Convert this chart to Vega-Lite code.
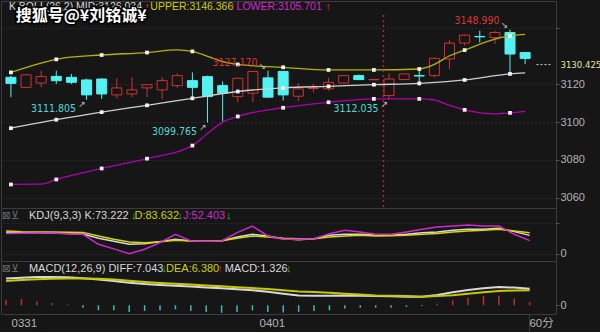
{
"$schema": "https://vega.github.io/schema/vega-lite/v6.json",
"background": "#161616",
"padding": 0,
"spacing": 0,
"bounds": "flush",
"config": {
  "view": {"stroke": "#3c3c3c", "strokeWidth": 1},
  "axis": {"labelFont": "Liberation Sans", "labelFontSize": 11, "labelColor": "#b4b4b4", "domain": false, "tickColor": "#555555", "tickSize": 3, "labelPadding": 1, "gridColor": "#3a3a3a", "gridDash": [1, 3], "title": null, "labelOverlap": false, "labelBound": false},
  "text": {"font": "Liberation Sans"}
},
"datasets": {
  "candles": [
    {"i":1,"o":3123.7,"h":3124.5,"l":3113.2,"c":3120.5},
    {"i":2,"o":3118.4,"h":3125.3,"l":3118.2,"c":3125.0},
    {"i":3,"o":3120.7,"h":3127.2,"l":3118.4,"c":3124.1},
    {"i":4,"o":3124.2,"h":3127.2,"l":3120.2,"c":3121.9},
    {"i":5,"o":3123.7,"h":3125.5,"l":3120.2,"c":3121.05},
    {"i":6,"o":3122.3,"h":3123.0,"l":3111.805,"c":3114.4},
    {"i":7,"o":3122.8,"h":3123.2,"l":3112.3,"c":3114.9},
    {"i":8,"o":3114.4,"h":3123.2,"l":3112.5,"c":3118.1},
    {"i":9,"o":3114.9,"h":3123.7,"l":3113.2,"c":3117.05},
    {"i":10,"o":3118.1,"h":3120.1,"l":3113.2,"c":3119.8},
    {"i":11,"o":3117.05,"h":3123.7,"l":3112.3,"c":3121.95},
    {"i":12,"o":3119.3,"h":3125.8,"l":3118.1,"c":3124.6},
    {"i":13,"o":3121.95,"h":3126.3,"l":3113.2,"c":3118.4},
    {"i":14,"o":3124.05,"h":3124.6,"l":3099.765,"c":3113.5},
    {"i":15,"o":3119.3,"h":3121.6,"l":3100.3,"c":3115.3},
    {"i":16,"o":3113.5,"h":3123.5,"l":3110.5,"c":3123.2},
    {"i":17,"o":3115.3,"h":3127.0,"l":3110.5,"c":3126.8},
    {"i":18,"o":3123.4,"h":3127.17,"l":3113.0,"c":3113.2},
    {"i":19,"o":3126.8,"h":3127.0,"l":3111.4,"c":3114.4},
    {"i":20,"o":3113.7,"h":3120.7,"l":3111.1,"c":3117.6},
    {"i":21,"o":3117.8,"h":3120.2,"l":3115.8,"c":3118.0},
    {"i":22,"o":3117.6,"h":3123.4,"l":3116.7,"c":3121.05},
    {"i":23,"o":3120.7,"h":3124.8,"l":3120.5,"c":3124.6},
    {"i":24,"o":3124.6,"h":3125.2,"l":3122.3,"c":3122.5},
    {"i":25,"o":3122.4,"h":3122.6,"l":3122.4,"c":3122.6},
    {"i":26,"o":3114.05,"h":3125.8,"l":3112.035,"c":3122.8},
    {"i":27,"o":3122.5,"h":3125.8,"l":3122.3,"c":3125.5},
    {"i":28,"o":3124.6,"h":3127.2,"l":3119.3,"c":3124.4},
    {"i":29,"o":3124.6,"h":3134.2,"l":3123.7,"c":3133.7},
    {"i":30,"o":3133.4,"h":3143.4,"l":3128.1,"c":3141.8},
    {"i":31,"o":3141.8,"h":3146.5,"l":3140.4,"c":3146.0},
    {"i":32,"o":3145.3,"h":3148.3,"l":3142.1,"c":3145.1},
    {"i":33,"o":3144.7,"h":3148.3,"l":3141.3,"c":3147.4},
    {"i":34,"o":3147.4,"h":3148.99,"l":3125.5,"c":3136.0},
    {"i":35,"o":3136.8,"h":3137.0,"l":3130.7,"c":3133.7}
  ],
  "boll": [
    {"i":1,"UPPER":3126.3,"MID":3096.8,"LOWER":3067.05},
    {"i":3,"LOWER":3067.2},
    {"i":4,"UPPER":3133.2,"MID":3101.3,"LOWER":3069.7},
    {"i":7,"UPPER":3135.5,"MID":3105.3,"LOWER":3075.5},
    {"i":10,"UPPER":3136.8,"MID":3108.9,"LOWER":3080.7},
    {"i":12,"UPPER":3138.2},
    {"i":13,"UPPER":3137.4,"MID":3112.6,"LOWER":3087.6},
    {"i":14,"UPPER":3134.8,"LOWER":3094.0},
    {"i":15,"UPPER":3132.0,"LOWER":3100.0},
    {"i":16,"UPPER":3130.5,"MID":3116.2,"LOWER":3103.0},
    {"i":19,"UPPER":3129.0,"MID":3118.1,"LOWER":3107.6},
    {"i":22,"UPPER":3127.6,"MID":3118.95,"LOWER":3110.5},
    {"i":25,"UPPER":3127.6,"MID":3119.8,"LOWER":3112.3},
    {"i":28,"UPPER":3128.1,"MID":3120.5,"LOWER":3112.3},
    {"i":29,"UPPER":3130.5,"LOWER":3111.7},
    {"i":30,"UPPER":3135.1,"LOWER":3108.8},
    {"i":31,"UPPER":3138.1,"MID":3122.3,"LOWER":3106.5},
    {"i":33,"UPPER":3143.9,"LOWER":3104.4},
    {"i":34,"UPPER":3145.6,"MID":3125.5,"LOWER":3104.9},
    {"i":35,"UPPER":3146.366,"MID":3126.034,"LOWER":3105.701}
  ],
  "extremes": [
    {"i":34,"p":3148.99,"t":"3148.990","k":"high"},
    {"i":18,"p":3127.17,"t":"3127.170","k":"high"},
    {"i":6,"p":3111.805,"t":"3111.805","k":"low"},
    {"i":14,"p":3099.765,"t":"3099.765","k":"low"},
    {"i":26,"p":3112.035,"t":"3112.035","k":"low"}
  ],
  "kdj": [
    {"i":1,"K":85,"D":90.5,"J":81},
    {"i":2,"K":84,"D":88,"J":82},
    {"i":3,"K":83.5,"D":87,"J":83},
    {"i":4,"K":82.7,"D":86.6,"J":82.7},
    {"i":5,"K":81,"D":86,"J":80},
    {"i":6,"K":79,"D":85,"J":77.5},
    {"i":7,"K":62,"D":71,"J":38},
    {"i":8,"K":50,"D":58,"J":20},
    {"i":9,"K":38,"D":47,"J":1},
    {"i":10,"K":40.6,"D":44.5,"J":18.5},
    {"i":11,"K":48.5,"D":48.5,"J":44.5},
    {"i":12,"K":58,"D":54,"J":77.5},
    {"i":13,"K":51,"D":51,"J":51},
    {"i":14,"K":50,"D":50,"J":50},
    {"i":15,"K":51,"D":52,"J":51},
    {"i":16,"K":67,"D":62,"J":84},
    {"i":17,"K":77.5,"D":71,"J":110},
    {"i":18,"K":71,"D":67,"J":71},
    {"i":19,"K":60,"D":62,"J":58},
    {"i":20,"K":56,"D":60,"J":58},
    {"i":21,"K":60,"D":60,"J":60},
    {"i":22,"K":73.6,"D":67,"J":80},
    {"i":23,"K":77.5,"D":71,"J":93},
    {"i":24,"K":77.5,"D":73.6,"J":86.6},
    {"i":25,"K":75,"D":71,"J":77.5},
    {"i":26,"K":73.6,"D":72,"J":77.5},
    {"i":27,"K":77.5,"D":73.6,"J":86.6},
    {"i":28,"K":84,"D":77.5,"J":97},
    {"i":29,"K":86.6,"D":81,"J":106},
    {"i":30,"K":93,"D":86.6,"J":110},
    {"i":31,"K":97,"D":90.5,"J":114},
    {"i":32,"K":97,"D":93,"J":110},
    {"i":33,"K":101,"D":97,"J":110},
    {"i":34,"K":88,"D":90.5,"J":77.5},
    {"i":35,"K":73.222,"D":83.632,"J":52.403}
  ],
  "macdl": [
    {"i":1,"DIFF":11.4,"DEA":10.3},
    {"i":2,"DIFF":11.7,"DEA":10.7},
    {"i":3,"DIFF":12.0,"DEA":11.0},
    {"i":4,"DIFF":12.0,"DEA":11.3},
    {"i":5,"DIFF":11.9,"DEA":11.4},
    {"i":6,"DIFF":11.5,"DEA":11.4},
    {"i":7,"DIFF":10.9,"DEA":11.3},
    {"i":8,"DIFF":10.3,"DEA":10.9},
    {"i":9,"DIFF":9.6,"DEA":10.4},
    {"i":10,"DIFF":9.0,"DEA":9.9},
    {"i":11,"DIFF":8.6,"DEA":9.5},
    {"i":12,"DIFF":8.3,"DEA":9.1},
    {"i":13,"DIFF":8.0,"DEA":8.8},
    {"i":14,"DIFF":7.6,"DEA":8.4},
    {"i":15,"DIFF":7.2,"DEA":8.1},
    {"i":16,"DIFF":6.8,"DEA":7.7},
    {"i":17,"DIFF":6.4,"DEA":7.3},
    {"i":18,"DIFF":5.7,"DEA":6.9},
    {"i":19,"DIFF":4.9,"DEA":6.4},
    {"i":20,"DIFF":4.2,"DEA":5.9},
    {"i":21,"DIFF":4.1,"DEA":5.6},
    {"i":22,"DIFF":4.1,"DEA":5.3},
    {"i":23,"DIFF":4.2,"DEA":4.9},
    {"i":24,"DIFF":4.1,"DEA":4.6},
    {"i":25,"DIFF":3.9,"DEA":4.2},
    {"i":26,"DIFF":3.8,"DEA":4.0},
    {"i":27,"DIFF":3.6,"DEA":3.9},
    {"i":28,"DIFF":3.6,"DEA":3.6},
    {"i":29,"DIFF":4.4,"DEA":3.9},
    {"i":30,"DIFF":5.5,"DEA":4.3},
    {"i":31,"DIFF":6.5,"DEA":4.9},
    {"i":32,"DIFF":7.2,"DEA":5.5},
    {"i":33,"DIFF":7.75,"DEA":6.06},
    {"i":34,"DIFF":7.5,"DEA":6.3},
    {"i":35,"DIFF":7.043,"DEA":6.38}
  ],
  "macd": [
    {"i":1,"m":2.4},{"i":2,"m":2.6},{"i":3,"m":1.6},{"i":4,"m":1.0},{"i":5,"m":0.4},
    {"i":6,"m":-1.0},{"i":7,"m":-2.1},{"i":8,"m":-2.1},{"i":9,"m":-2.8},{"i":10,"m":-2.4},
    {"i":11,"m":-2.1},{"i":12,"m":-1.7},{"i":13,"m":-2.4},{"i":14,"m":-2.8},{"i":15,"m":-3.2},
    {"i":16,"m":-2.8},{"i":17,"m":-2.1},{"i":18,"m":-2.8},{"i":19,"m":-3.1},{"i":20,"m":-2.8},
    {"i":21,"m":-2.4},{"i":22,"m":-2.1},{"i":23,"m":-1.4},{"i":24,"m":-1.0},{"i":25,"m":-1.0},
    {"i":26,"m":-1.0},{"i":27,"m":-0.7},{"i":28,"m":-0.3},{"i":29,"m":0.7},{"i":30,"m":2.1},
    {"i":31,"m":3.2},{"i":32,"m":4.0},{"i":33,"m":4.0},{"i":34,"m":2.8},{"i":35,"m":1.326}
  ],
  "hdr_main": [
    {"at":0.87,"t":"K BOLL(26,2) MID:3126.034","role":"name"},
    {"at":9.83,"t":"↑","role":"rise"},
    {"at":10.22,"t":"UPPER:3146.366","role":"yellow"},
    {"at":15.48,"t":"↑","role":"rise"},
    {"at":15.92,"t":"LOWER:3105.701","role":"magenta"},
    {"at":21.8,"t":"↑","role":"rise"}
  ],
  "hdr_kdj": [
    {"at":0.72,"t":"⊠⊻","role":"icon"},
    {"at":2.49,"t":"KDJ(9,3,3) K:73.222","role":"name"},
    {"at":9.12,"t":"↓","role":"fall"},
    {"at":9.34,"t":"D:83.632","role":"yellow"},
    {"at":12.14,"t":"↓","role":"fall"},
    {"at":12.49,"t":"J:52.403","role":"magenta"},
    {"at":15.29,"t":"↓","role":"fall"}
  ],
  "hdr_macd": [
    {"at":0.72,"t":"⊠⊻","role":"icon"},
    {"at":2.49,"t":"MACD(12,26,9) DIFF:7.043","role":"name"},
    {"at":11.1,"t":"↓","role":"fall"},
    {"at":11.39,"t":"DEA:6.380","role":"yellow"},
    {"at":14.72,"t":"↑","role":"rise"},
    {"at":15.2,"t":"MACD:1.326","role":"name"},
    {"at":19.18,"t":"↓","role":"fall"}
  ]
},
"vconcat": [
  {
    "width": 555,
    "height": 207,
    "layer": [
      {
        "data": {"name": "candles"},
        "mark": {"type": "rule", "strokeWidth": 1},
        "encoding": {
          "x": {"field": "i", "type": "quantitative", "scale": {"domain": [0.675, 36.71], "nice": false, "zero": false}, "axis": null},
          "y": {"field": "l", "type": "quantitative", "scale": {"domain": [3054.6, 3164.05], "nice": false, "zero": false},
            "axis": {"orient": "right", "values": [3060,3070,3080,3090,3100,3110,3120,3130,3130.425,3140,3150],
              "labelExpr": "datum.value == 3130.425 ? '3130.425' : (datum.value % 20 == 0 ? format(datum.value, 'd') : '')",
              "grid": true,
              "gridColor": {"condition": {"test": "datum.value == 3130.425", "value": "transparent"}, "value": "#3a3a3a"},
              "labelColor": {"condition": {"test": "datum.value == 3130.425", "value": "#e8e0a8"}, "value": "#b4b4b4"},
              "labelFont": {"condition": {"test": "datum.value == 3130.425", "value": "DejaVu Sans Condensed"}, "value": "Liberation Sans"},
              "labelFontSize": {"condition": {"test": "datum.value == 3130.425", "value": 9.5}, "value": 11},
              "tickColor": {"condition": {"test": "datum.value == 3130.425", "value": "transparent"}, "value": "#555555"}}},
          "y2": {"field": "h"},
          "color": {"condition": {"test": "datum.c >= datum.o", "value": "#d23232"}, "value": "#52f2f2"}
        }
      },
      {
        "data": {"name": "candles"},
        "mark": {"type": "bar", "orient": "vertical", "size": 10, "strokeWidth": 1},
        "encoding": {
          "x": {"field": "i", "type": "quantitative"},
          "y": {"field": "o", "type": "quantitative"},
          "y2": {"field": "c"},
          "fill": {"condition": {"test": "datum.c >= datum.o", "value": "#161616"}, "value": "#52f2f2"},
          "stroke": {"condition": {"test": "datum.c >= datum.o", "value": "#d23232"}, "value": "#52f2f2"}
        }
      },
      {
        "data": {"name": "boll"},
        "transform": [{"fold": ["UPPER", "MID", "LOWER"], "as": ["band", "v"]}, {"filter": "isValid(datum.v)"}],
        "mark": {"type": "line", "interpolate": "monotone", "strokeWidth": 1.3},
        "encoding": {
          "x": {"field": "i", "type": "quantitative"},
          "y": {"field": "v", "type": "quantitative"},
          "stroke": {"field": "band", "type": "nominal", "legend": null,
            "scale": {"domain": ["UPPER","MID","LOWER","K","D","J","DIFF","DEA"], "range": ["#b4b400","#cfcfcf","#b000b0","#d8d8d8","#d8d800","#d028d0","#d8d8d8","#c8c800"]}}
        }
      },
      {
        "data": {"name": "boll"},
        "transform": [{"fold": ["UPPER", "MID", "LOWER"], "as": ["band", "v"]}, {"filter": "isValid(datum.v) && (datum.i - 1) % 3 == 0"}],
        "mark": {"type": "point", "shape": "square", "filled": true, "size": 14, "color": "#f4f4f4", "opacity": 1},
        "encoding": {
          "x": {"field": "i", "type": "quantitative"},
          "y": {"field": "v", "type": "quantitative"}
        }
      },
      {
        "data": {"values": [{"t": 25.63}]},
        "mark": {"type": "rule", "color": "#b42828", "strokeWidth": 1.5, "strokeDash": [2, 3]},
        "encoding": {
          "x": {"field": "t", "type": "quantitative"},
          "y": {"datum": 3156.7},
          "y2": {"datum": 3054.6}
        }
      },
      {
        "data": {"values": [{"p": 3130.425}]},
        "mark": {"type": "rule", "color": "#e0d8a0", "strokeWidth": 1, "strokeDash": [2, 2]},
        "encoding": {
          "y": {"field": "p", "type": "quantitative"},
          "x": {"datum": 35.75},
          "x2": {"datum": 36.71}
        }
      },
      {
        "data": {"name": "extremes"},
        "transform": [{"filter": "datum.k == 'high'"}],
        "mark": {"type": "text", "align": "right", "baseline": "middle", "dx": -10.5, "dy": -8, "fontSize": 10.5, "font": "DejaVu Sans Condensed", "color": "#dc3232"},
        "encoding": {
          "x": {"field": "i", "type": "quantitative"},
          "y": {"field": "p", "type": "quantitative"},
          "text": {"field": "t"}
        }
      },
      {
        "data": {"name": "extremes"},
        "transform": [{"filter": "datum.k == 'low'"}],
        "mark": {"type": "text", "align": "right", "baseline": "middle", "dx": -10.5, "dy": 9.6, "fontSize": 10.5, "font": "DejaVu Sans Condensed", "color": "#50d8d8"},
        "encoding": {
          "x": {"field": "i", "type": "quantitative"},
          "y": {"field": "p", "type": "quantitative"},
          "text": {"field": "t"}
        }
      },
      {
        "data": {"name": "extremes"},
        "transform": [{"filter": "datum.k == 'high'"}],
        "mark": {"type": "text", "align": "center", "baseline": "middle", "dx": -5.5, "dy": -4.5, "fontSize": 9, "font": "DejaVu Sans", "color": "#c0c0c0", "text": "↘"},
        "encoding": {
          "x": {"field": "i", "type": "quantitative"},
          "y": {"field": "p", "type": "quantitative"}
        }
      },
      {
        "data": {"name": "extremes"},
        "transform": [{"filter": "datum.k == 'low'"}],
        "mark": {"type": "text", "align": "center", "baseline": "middle", "dx": -4.5, "dy": 4.5, "fontSize": 9, "font": "DejaVu Sans", "color": "#c0c0c0", "text": "↗"},
        "encoding": {
          "x": {"field": "i", "type": "quantitative"},
          "y": {"field": "p", "type": "quantitative"}
        }
      },
      {
        "data": {"name": "hdr_main"},
        "mark": {"type": "text", "align": "left", "baseline": "middle", "fontSize": 10.5},
        "encoding": {
          "x": {"field": "at", "type": "quantitative"},
          "y": {"datum": 3160.9},
          "text": {"field": "t"},
          "fill": {"field": "role", "type": "nominal", "legend": null,
            "scale": {"domain": ["name","rise","fall","yellow","magenta","icon"], "range": ["#d8d8d8","#e03030","#22c422","#d0d000","#d028d0","#6a6a6a"]}}
        }
      },
      {
        "data": {"values": [{"w": "搜狐号@¥刘铭诚¥"}]},
        "mark": {"type": "text", "align": "left", "baseline": "middle", "fontSize": 16, "fontWeight": "bold", "font": "Noto Sans CJK SC", "fill": "#000000", "stroke": "#000000", "strokeWidth": 3},
        "encoding": {
          "x": {"datum": 1.32},
          "y": {"datum": 3156.2},
          "text": {"field": "w"}
        }
      },
      {
        "data": {"values": [{"w": "搜狐号@¥刘铭诚¥"}]},
        "mark": {"type": "text", "align": "left", "baseline": "middle", "fontSize": 16, "fontWeight": "bold", "font": "Noto Sans CJK SC", "fill": "#ffffff"},
        "encoding": {
          "x": {"datum": 1.32},
          "y": {"datum": 3156.2},
          "text": {"field": "w"}
        }
      }
    ]
  },
  {
    "width": 555,
    "height": 53,
    "layer": [
      {
        "data": {"name": "kdj"},
        "transform": [{"fold": ["K", "D", "J"], "as": ["s", "v"]}],
        "mark": {"type": "line", "strokeWidth": 1.5},
        "encoding": {
          "x": {"field": "i", "type": "quantitative", "scale": {"domain": [0.675, 36.71], "nice": false, "zero": false}, "axis": null},
          "y": {"field": "v", "type": "quantitative", "scale": {"domain": [-27.6, 181], "nice": false, "zero": false},
            "axis": {"orient": "right", "values": [0, 40, 80, 120], "grid": true,
              "labelExpr": "datum.value == 0 || datum.value == 80 ? format(datum.value, 'd') : ''"}},
          "stroke": {"field": "s", "type": "nominal", "legend": null,
            "scale": {"domain": ["UPPER","MID","LOWER","K","D","J","DIFF","DEA"], "range": ["#b4b400","#cfcfcf","#b000b0","#d8d8d8","#d8d800","#d028d0","#d8d8d8","#c8c800"]}}
        }
      },
      {
        "data": {"name": "hdr_kdj"},
        "mark": {"type": "text", "align": "left", "baseline": "middle", "fontSize": 11, "font": "Liberation Sans, DejaVu Sans"},
        "encoding": {
          "x": {"field": "at", "type": "quantitative"},
          "y": {"datum": 149.6},
          "text": {"field": "t"},
          "fill": {"field": "role", "type": "nominal", "legend": null,
            "scale": {"domain": ["name","rise","fall","yellow","magenta","icon"], "range": ["#d8d8d8","#e03030","#22c422","#d0d000","#d028d0","#6a6a6a"]}}
        }
      }
    ]
  },
  {
    "width": 555,
    "height": 53,
    "layer": [
      {
        "data": {"name": "macd"},
        "mark": {"type": "rule", "strokeWidth": 1.5},
        "encoding": {
          "x": {"field": "i", "type": "quantitative", "scale": {"domain": [0.675, 36.71], "nice": false, "zero": false},
            "axis": {"orient": "bottom", "values": [1.325, 17.43, 34.95], "grid": false,
              "labelExpr": "datum.value < 5 ? '0331' : (datum.value < 30 ? '0401' : '60分')",
              "labelAlign": "left", "labelFont": "Liberation Sans, Noto Sans CJK SC", "labelFontSize": 11.5,
              "tickSize": 17, "labelPadding": -14,
              "tickColor": {"condition": {"test": "datum.value > 30", "value": "#3c3c3c"}, "value": "transparent"}}},
          "y": {"field": "m", "type": "quantitative", "scale": {"domain": [-3.7, 18.8], "nice": false, "zero": false},
            "axis": {"orient": "right", "values": [0], "grid": false, "labelExpr": "'0'"}},
          "y2": {"datum": 0},
          "color": {"condition": {"test": "datum.m >= 0", "value": "#c02c2c"}, "value": "#3cbcbc"}
        }
      },
      {
        "data": {"name": "macdl"},
        "transform": [{"fold": ["DIFF", "DEA"], "as": ["s", "v"]}],
        "mark": {"type": "line", "strokeWidth": 2},
        "encoding": {
          "x": {"field": "i", "type": "quantitative"},
          "y": {"field": "v", "type": "quantitative"},
          "stroke": {"field": "s", "type": "nominal", "legend": null,
            "scale": {"domain": ["UPPER","MID","LOWER","K","D","J","DIFF","DEA"], "range": ["#b4b400","#cfcfcf","#b000b0","#d8d8d8","#d8d800","#d028d0","#d8d8d8","#c8c800"]}}
        }
      },
      {
        "data": {"name": "hdr_macd"},
        "mark": {"type": "text", "align": "left", "baseline": "middle", "fontSize": 11, "font": "Liberation Sans, DejaVu Sans"},
        "encoding": {
          "x": {"field": "at", "type": "quantitative"},
          "y": {"datum": 15.4},
          "text": {"field": "t"},
          "fill": {"field": "role", "type": "nominal", "legend": null,
            "scale": {"domain": ["name","rise","fall","yellow","magenta","icon"], "range": ["#d8d8d8","#e03030","#22c422","#d0d000","#d028d0","#6a6a6a"]}}
        }
      }
    ]
  }
]
}
